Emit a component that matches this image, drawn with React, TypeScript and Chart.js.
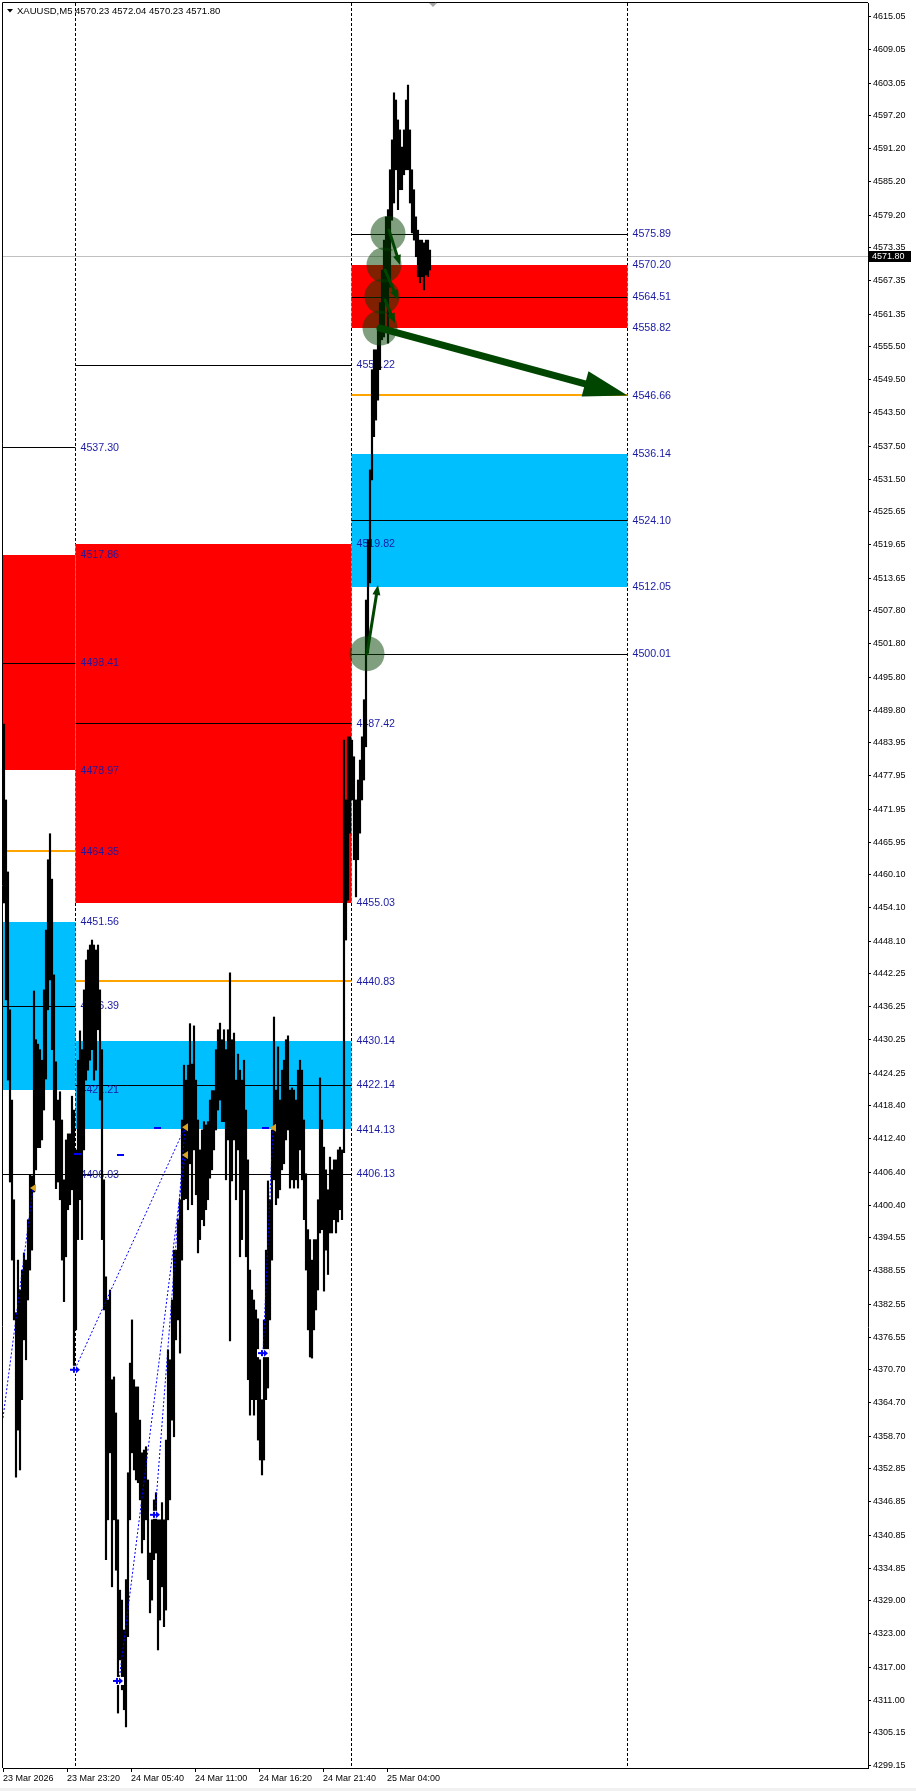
import React, { useEffect, useRef } from "react";
import { Chart, registerables } from "chart.js";

Chart.register(...registerables);

// ---------------- data ----------------
const symbol = "XAUUSD,M5";
const lastOHLC = [4570.23, 4572.04, 4570.23, 4571.8];
const bidPrice = 4571.8;

// each entry aggregates two M5 bars (10 minutes)
const highs = [
  4487.3, 4473.6, 4460.6, 4435.7, 4419.4, 4401.4, 4381.0, 4390.5, 4385.1, 4388.7,
  4391.8, 4390.5, 4397.8, 4405.9, 4405.7, 4439.1, 4430.3, 4429.5, 4428.5, 4426.6,
  4439.3, 4450.1, 4462.8, 4467.5, 4459.3, 4442.0, 4426.3, 4419.4, 4420.9, 4415.8,
  4405.0, 4412.2, 4413.3, 4413.3, 4420.1, 4417.6, 4410.4, 4426.6, 4431.9, 4428.5,
  4439.3, 4444.7, 4446.5, 4447.4, 4448.3, 4447.4, 4446.5, 4447.4, 4439.3, 4428.5,
  4405.0, 4387.5, 4383.3, 4385.1, 4368.9, 4369.4, 4362.9, 4343.6, 4330.9, 4329.1,
  4323.7, 4332.8, 4352.1, 4371.9, 4379.7, 4368.9, 4367.6, 4367.6, 4361.6, 4355.7,
  4356.2, 4356.8, 4350.8, 4337.6, 4343.6, 4347.2, 4348.5, 4343.6, 4343.6, 4346.7,
  4343.6, 4358.0, 4374.3, 4372.5, 4383.3, 4392.3, 4392.3, 4397.8, 4401.4, 4415.8,
  4425.7, 4423.0, 4425.7, 4433.2, 4425.9, 4432.8, 4423.0, 4415.8, 4410.4, 4414.0,
  4415.5, 4414.9, 4415.5, 4419.4, 4421.1, 4421.1, 4428.5, 4432.1, 4433.3, 4430.3,
  4432.1, 4428.5, 4432.1, 4442.4, 4430.3, 4431.5, 4423.0, 4427.7, 4424.8, 4423.0,
  4426.6, 4417.6, 4408.6, 4388.7, 4385.1, 4383.3, 4381.5, 4379.9, 4372.5, 4365.3,
  4379.7, 4392.3, 4404.8, 4401.4, 4414.0, 4434.4, 4421.2, 4429.0, 4419.4, 4424.8,
  4426.6, 4430.3, 4431.0, 4421.2, 4421.6, 4421.2, 4419.4, 4424.8, 4426.6, 4424.8,
  4415.8, 4406.1, 4396.0, 4394.2, 4390.5, 4394.2, 4394.2, 4401.4, 4423.4, 4415.8,
  4410.9, 4406.8, 4403.2, 4409.1, 4406.8, 4408.6, 4408.6, 4410.4, 4410.9, 4410.4,
  4484.4, 4473.6, 4485.0, 4485.0, 4484.4, 4481.4, 4473.6, 4477.2, 4480.8, 4485.0,
  4491.7, 4509.7, 4520.6, 4533.2, 4551.3, 4554.9, 4554.9, 4558.5, 4563.4, 4569.3,
  4574.7, 4578.9, 4580.2, 4587.4, 4592.8, 4601.3, 4600.0, 4596.4, 4594.6, 4591.5,
  4594.6, 4600.0, 4602.7, 4594.6, 4587.4, 4583.8, 4578.9, 4576.5, 4574.7, 4574.7,
  4574.2, 4574.7, 4574.7, 4572.9,
];
const lows = [
  4455.0, 4437.5, 4423.0, 4404.6, 4390.5, 4379.7, 4351.3, 4359.8, 4352.6, 4365.3,
  4376.1, 4372.5, 4383.3, 4388.7, 4392.3, 4402.8, 4406.8, 4410.8, 4410.8, 4412.2,
  4417.6, 4423.2, 4435.7, 4441.1, 4428.5, 4415.8, 4403.4, 4404.6, 4401.4, 4390.5,
  4383.0, 4391.1, 4399.6, 4400.5, 4403.2, 4370.9, 4377.9, 4394.2, 4401.4, 4394.2,
  4410.4, 4423.0, 4424.8, 4426.6, 4428.5, 4423.0, 4424.8, 4432.1, 4419.4, 4394.2,
  4381.5, 4336.4, 4343.6, 4355.7, 4331.5, 4343.6, 4334.5, 4308.7, 4318.3, 4312.9,
  4309.3, 4306.2, 4322.5, 4343.6, 4355.7, 4352.6, 4350.8, 4350.3, 4347.2, 4337.6,
  4340.0, 4343.6, 4332.8, 4326.8, 4329.1, 4336.4, 4337.6, 4320.1, 4325.5, 4331.5,
  4324.3, 4327.3, 4343.6, 4347.2, 4361.6, 4358.6, 4376.1, 4379.7, 4373.7, 4390.5,
  4401.4, 4401.6, 4399.6, 4407.9, 4400.5, 4410.4, 4402.3, 4391.8, 4394.2, 4397.8,
  4396.7, 4399.6, 4401.4, 4405.3, 4406.8, 4410.4, 4414.0, 4417.6, 4419.4, 4415.5,
  4415.5, 4405.0, 4412.2, 4375.9, 4404.8, 4412.2, 4401.4, 4410.4, 4391.1, 4394.2,
  4403.2, 4391.1, 4368.9, 4362.5, 4365.3, 4362.5, 4365.3, 4358.0, 4354.4, 4351.7,
  4354.4, 4365.3, 4367.4, 4379.7, 4390.5, 4405.0, 4400.5, 4401.7, 4403.2, 4406.8,
  4407.9, 4412.2, 4414.0, 4403.5, 4405.0, 4403.5, 4405.0, 4403.5, 4410.4, 4405.0,
  4397.8, 4388.7, 4377.9, 4373.0, 4372.8, 4377.9, 4381.5, 4385.1, 4395.4, 4396.0,
  4384.9, 4392.3, 4387.9, 4395.4, 4395.4, 4397.8, 4395.4, 4397.4, 4399.6, 4397.8,
  4409.9, 4448.3, 4455.5, 4467.6, 4473.6, 4462.8, 4456.1, 4462.8, 4467.6, 4473.6,
  4477.2, 4483.2, 4500.2, 4512.8, 4531.4, 4539.2, 4542.2, 4545.8, 4551.3, 4556.7,
  4557.2, 4563.9, 4556.1, 4566.2, 4578.3, 4581.4, 4587.4, 4580.2, 4583.8, 4583.8,
  4586.5, 4587.4, 4587.4, 4581.4, 4576.0, 4574.7, 4571.7, 4568.1, 4567.0, 4568.1,
  4565.7, 4568.4, 4568.1, 4569.3,
];

const priceMin = 4298.78;
const priceMax = 4617.52;
const priceTicks = [
  4615.05, 4609.05, 4603.05, 4597.2, 4591.2, 4585.2, 4579.2, 4573.35, 4567.35, 4561.35,
  4555.5, 4549.5, 4543.5, 4537.5, 4531.5, 4525.65, 4519.65, 4513.65, 4507.8, 4501.8,
  4495.8, 4489.8, 4483.95, 4477.95, 4471.95, 4465.95, 4460.1, 4454.1, 4448.1, 4442.25,
  4436.25, 4430.25, 4424.25, 4418.4, 4412.4, 4406.4, 4400.4, 4394.55, 4388.55, 4382.55,
  4376.55, 4370.7, 4364.7, 4358.7, 4352.85, 4346.85, 4340.85, 4334.85, 4329.0, 4323.0,
  4317.0, 4311.0, 4305.15, 4299.15,
];

const barCapacity = 865;
const timeTickIdx = [0, 64, 128, 192, 256, 320, 384];
const timeTickLabels = [
  "23 Mar 2026", "23 Mar 23:20", "24 Mar 05:40", "24 Mar 11:00",
  "24 Mar 16:20", "24 Mar 21:40", "25 Mar 04:00",
];

// day separators and zone segments (bar index)
const daySeparatorIdx = [72.5, 348.5, 624.5];
const segStartIdx = [0, 72.5, 348.5];
const segEndIdx = [72.5, 348.5, 624.5];

const supplyTop = [4517.86, 4519.82, 4570.2];
const supplyBottom = [4478.97, 4455.03, 4558.82];
const supplyMid = [4498.41, 4487.42, 4564.51];
const demandTop = [4451.56, 4430.14, 4536.14];
const demandBottom = [4421.21, 4414.13, 4512.05];
const demandMid = [4436.39, 4422.14, 4524.1];
const upperLevel = [4537.3, 4552.22, 4575.89];
const lowerLevel = [4406.03, 4406.13, 4500.01];
const orangeLevel = [4464.35, 4440.83, 4546.66];

// touch circles
const circleIdx = [385, 381, 379, 377, 364];
const circlePrice = [4575.89, 4570.2, 4564.51, 4558.82, 4500.01];

// arrows (first one is the big projection arrow)
const arrowFromIdx = [377, 386, 382, 382, 364];
const arrowFromPrice = [4558.82, 4576.5, 4569.3, 4563.9, 4500.0];
const arrowToIdx = [624.5, 397, 395, 392, 375];
const arrowToPrice = [4546.66, 4570.2, 4563.9, 4559.7, 4512.4];

// zigzag (blue dotted)
const zigFromIdx = [0, 72, 116, 152, 260];
const zigFromPrice = [4362.0, 4370.8, 4314.5, 4344.5, 4373.7];
const zigToIdx = [30, 182, 182, 182, 270];
const zigToPrice = [4403.5, 4414.5, 4409.5, 4414.5, 4414.4];

const lowMarkIdx = [72, 115, 152, 260];
const lowMarkPrice = [4370.7, 4314.5, 4344.5, 4373.7];
const highMarkIdx = [30, 182, 182, 270];
const highMarkPrice = [4403.5, 4414.5, 4409.5, 4414.4];
const dashIdx = [74, 117, 154, 262];
const dashPrice = [4409.7, 4409.5, 4414.4, 4414.4];

// ---------------- styles ----------------
const W = 916;
const H = 1791;
const FONT = "'Liberation Sans', Arial, sans-serif";
const RED = "#ff0000";
const CYAN = "#00bfff";
const ORANGE = "#ffa500";
const LABEL_BLUE = "#1a1aa6";
const GREEN = "#004600";

const crisp = (v: number) => Math.round(v) + 0.5;

const overlay = {
  id: "mtOverlay",
  beforeDraw(chart: any) {
    const { ctx } = chart;
    ctx.save();
    ctx.fillStyle = "#ffffff";
    ctx.fillRect(0, 0, W, H);
    ctx.fillStyle = "#f0f0f0";
    ctx.fillRect(0, 1788, W, H - 1788);
    ctx.restore();
  },
  beforeDatasetsDraw(chart: any) {
    const { ctx, chartArea: ca } = chart;
    const x = chart.scales.x;
    const y = chart.scales.y;
    ctx.save();
    ctx.beginPath();
    ctx.rect(ca.left, ca.top, ca.right - ca.left, ca.bottom - ca.top);
    ctx.clip();

    // zones
    for (let i = 0; i < segStartIdx.length; i++) {
      const x0 = x.getPixelForValue(segStartIdx[i]);
      const x1 = x.getPixelForValue(segEndIdx[i]);
      const sT = y.getPixelForValue(supplyTop[i]);
      const sB = y.getPixelForValue(supplyBottom[i]);
      ctx.fillStyle = RED;
      ctx.fillRect(x0, Math.round(sT), x1 - x0, Math.round(sB) - Math.round(sT));
      const dT = y.getPixelForValue(demandTop[i]);
      const dB = y.getPixelForValue(demandBottom[i]);
      ctx.fillStyle = CYAN;
      ctx.fillRect(x0, Math.round(dT), x1 - x0, Math.round(dB) - Math.round(dT));
    }

    // day separators (inverted dotted)
    ctx.save();
    ctx.globalCompositeOperation = "difference";
    ctx.strokeStyle = "#ffffff";
    ctx.lineWidth = 1;
    ctx.setLineDash([3, 2]);
    for (const s of daySeparatorIdx) {
      const px = Math.floor(x.getPixelForValue(s)) + 0.5;
      ctx.beginPath();
      ctx.moveTo(px, ca.top);
      ctx.lineTo(px, ca.bottom);
      ctx.stroke();
    }
    ctx.restore();

    // bid line
    ctx.strokeStyle = "#c0c0c0";
    ctx.lineWidth = 1;
    const by = crisp(y.getPixelForValue(bidPrice));
    ctx.beginPath();
    ctx.moveTo(ca.left, by);
    ctx.lineTo(ca.right, by);
    ctx.stroke();

    // horizontal levels
    const hline = (i: number, v: number, color: string, lw: number) => {
      const x0 = x.getPixelForValue(segStartIdx[i]);
      const x1 = x.getPixelForValue(segEndIdx[i]);
      const py = lw === 1 ? crisp(y.getPixelForValue(v)) : Math.round(y.getPixelForValue(v));
      ctx.strokeStyle = color;
      ctx.lineWidth = lw;
      ctx.beginPath();
      ctx.moveTo(x0, py);
      ctx.lineTo(x1, py);
      ctx.stroke();
    };
    for (let i = 0; i < segStartIdx.length; i++) {
      hline(i, supplyMid[i], "#000000", 1);
      hline(i, demandMid[i], "#000000", 1);
      hline(i, upperLevel[i], "#000000", 1);
      hline(i, lowerLevel[i], "#000000", 1);
      hline(i, orangeLevel[i], ORANGE, 2);
    }

    // labels
    ctx.font = `10.67px ${FONT}`;
    ctx.fillStyle = LABEL_BLUE;
    ctx.textAlign = "left";
    ctx.textBaseline = "middle";
    for (let i = 0; i < segStartIdx.length; i++) {
      const lx = x.getPixelForValue(segEndIdx[i]) + 5;
      const vals = [
        supplyTop[i], supplyBottom[i], supplyMid[i], demandTop[i], demandBottom[i],
        demandMid[i], upperLevel[i], lowerLevel[i], orangeLevel[i],
      ];
      for (const v of vals) {
        ctx.fillText(v.toFixed(2), lx, y.getPixelForValue(v) + 0.5);
      }
    }
    ctx.restore();
  },
  afterDatasetsDraw(chart: any) {
    const { ctx, chartArea: ca } = chart;
    const x = chart.scales.x;
    const y = chart.scales.y;
    ctx.save();
    ctx.beginPath();
    ctx.rect(ca.left, ca.top, ca.right - ca.left, ca.bottom - ca.top);
    ctx.clip();

    // zigzag
    ctx.strokeStyle = "#0000ff";
    ctx.lineWidth = 1;
    ctx.setLineDash([2, 2]);
    for (let i = 0; i < zigFromIdx.length; i++) {
      ctx.beginPath();
      ctx.moveTo(x.getPixelForValue(zigFromIdx[i]), y.getPixelForValue(zigFromPrice[i]));
      ctx.lineTo(x.getPixelForValue(zigToIdx[i]), y.getPixelForValue(zigToPrice[i]));
      ctx.stroke();
    }
    ctx.setLineDash([]);

    // markers
    for (let i = 0; i < dashIdx.length; i++) {
      const px = x.getPixelForValue(dashIdx[i]);
      const py = Math.round(y.getPixelForValue(dashPrice[i]));
      ctx.fillStyle = "#0000ff";
      ctx.fillRect(px - 3, py - 1, 7, 2);
    }
    for (let i = 0; i < highMarkIdx.length; i++) {
      const px = x.getPixelForValue(highMarkIdx[i]);
      const py = y.getPixelForValue(highMarkPrice[i]);
      ctx.fillStyle = "#daa520";
      ctx.beginPath();
      ctx.moveTo(px - 3, py);
      ctx.lineTo(px + 3, py - 4);
      ctx.lineTo(px + 3, py + 4);
      ctx.closePath();
      ctx.fill();
    }
    for (let i = 0; i < lowMarkIdx.length; i++) {
      const px = x.getPixelForValue(lowMarkIdx[i]);
      const py = y.getPixelForValue(lowMarkPrice[i]);
      ctx.fillStyle = "#ffffff";
      ctx.fillRect(px - 6, py - 4, 12, 8);
      ctx.fillStyle = "#0000ff";
      ctx.fillRect(px - 5, py - 1, 6, 2);
      ctx.fillRect(px - 2, py - 3, 2, 6);
      ctx.beginPath();
      ctx.moveTo(px + 1, py - 3.5);
      ctx.lineTo(px + 5, py);
      ctx.lineTo(px + 1, py + 3.5);
      ctx.closePath();
      ctx.fill();
    }

    // circles
    ctx.fillStyle = "rgba(0,64,0,0.5)";
    for (let i = 0; i < circleIdx.length; i++) {
      ctx.beginPath();
      ctx.arc(x.getPixelForValue(circleIdx[i]), y.getPixelForValue(circlePrice[i]), 17.5, 0, Math.PI * 2);
      ctx.fill();
    }

    // arrows
    for (let i = 0; i < arrowFromIdx.length; i++) {
      const big = i === 0;
      const x0 = x.getPixelForValue(arrowFromIdx[i]);
      const y0 = y.getPixelForValue(arrowFromPrice[i]);
      const x1 = x.getPixelForValue(arrowToIdx[i]);
      const y1 = y.getPixelForValue(arrowToPrice[i]);
      const len = Math.hypot(x1 - x0, y1 - y0);
      const ux = (x1 - x0) / len;
      const uy = (y1 - y0) / len;
      const hl = big ? 44 : 10;
      const hw = big ? 13 : 4;
      const bx = x1 - ux * hl;
      const byy = y1 - uy * hl;
      ctx.strokeStyle = GREEN;
      ctx.fillStyle = GREEN;
      ctx.lineWidth = big ? 7 : 3;
      ctx.lineCap = "round";
      ctx.beginPath();
      ctx.moveTo(x0, y0);
      ctx.lineTo(bx + ux * 2, byy + uy * 2);
      ctx.stroke();
      ctx.beginPath();
      ctx.moveTo(x1, y1);
      ctx.lineTo(bx - uy * hw, byy + ux * hw);
      ctx.lineTo(bx + uy * hw, byy - ux * hw);
      ctx.closePath();
      ctx.fill();
    }
    ctx.restore();
  },
  afterDraw(chart: any) {
    const { ctx, chartArea: ca } = chart;
    const y = chart.scales.y;
    ctx.save();
    // frame
    ctx.strokeStyle = "#000000";
    ctx.lineWidth = 1;
    ctx.beginPath();
    ctx.moveTo(ca.left - 0.5, ca.bottom);
    ctx.lineTo(ca.left - 0.5, ca.top - 0.5);
    ctx.lineTo(ca.right, ca.top - 0.5);
    ctx.stroke();

    // shift marker
    ctx.fillStyle = "#a8a8a8";
    ctx.beginPath();
    ctx.moveTo(429, ca.top);
    ctx.lineTo(437, ca.top);
    ctx.lineTo(433, ca.top + 4);
    ctx.closePath();
    ctx.fill();

    // header
    ctx.fillStyle = "#000000";
    ctx.beginPath();
    ctx.moveTo(7, 9);
    ctx.lineTo(13, 9);
    ctx.lineTo(10, 12.5);
    ctx.closePath();
    ctx.fill();
    ctx.font = `9.5px ${FONT}`;
    ctx.textAlign = "left";
    ctx.textBaseline = "middle";
    ctx.fillText(`${symbol} ${lastOHLC.map((v) => v.toFixed(2)).join(" ")}`, 17, 11);

    // bid price box
    const py = Math.round(y.getPixelForValue(bidPrice));
    ctx.fillStyle = "#000000";
    ctx.fillRect(ca.right + 1, py - 5, 42, 11);
    ctx.fillStyle = "#ffffff";
    ctx.font = `9px ${FONT}`;
    ctx.fillText(bidPrice.toFixed(2), ca.right + 4, py + 0.5);
    ctx.restore();
  },
};

export default function App() {
  const ref = useRef<HTMLCanvasElement | null>(null);
  useEffect(() => {
    document.body.style.margin = "0";
    const canvas = ref.current;
    if (!canvas) return;
    const bars = highs.map((h, i) => ({ x: i * 2 + 1, y: [lows[i], h] }));
    const tickFont = { family: FONT, size: 9 };
    const chart = new Chart(canvas, {
      type: "bar",
      data: {
        datasets: [
          {
            data: bars as any,
            backgroundColor: "#000000",
            borderWidth: 0,
            barThickness: 1.5,
            grouped: false,
          } as any,
        ],
      },
      options: {
        responsive: false,
        animation: false,
        devicePixelRatio: 1,
        events: [],
        layout: { padding: { left: 3, top: 3, right: 0, bottom: 0 } },
        plugins: { legend: { display: false }, tooltip: { enabled: false } },
        scales: {
          x: {
            type: "linear",
            position: "bottom",
            min: 0,
            max: barCapacity,
            offset: false,
            afterBuildTicks: (s: any) => {
              s.ticks = timeTickIdx.map((v) => ({ value: v }));
            },
            afterFit: (s: any) => {
              s.height = 23;
              s.paddingLeft = 0;
              s.paddingRight = 0;
            },
            grid: { drawOnChartArea: false, offset: false, tickLength: 4, color: "#000000", lineWidth: 1 },
            border: { display: true, color: "#000000" },
            ticks: {
              autoSkip: false,
              maxRotation: 0,
              align: "start",
              padding: 1,
              color: "#000000",
              font: tickFont,
              callback: (v: any) => {
                const k = timeTickIdx.indexOf(Number(v));
                return k >= 0 ? timeTickLabels[k] : "";
              },
            },
          } as any,
          y: {
            type: "linear",
            position: "right",
            min: priceMin,
            max: priceMax,
            afterBuildTicks: (s: any) => {
              s.ticks = priceTicks.map((v) => ({ value: v }));
            },
            afterFit: (s: any) => {
              s.width = 48;
              s.paddingTop = 0;
              s.paddingBottom = 0;
            },
            grid: { drawOnChartArea: false, tickLength: 3, color: "#000000", lineWidth: 1 },
            border: { display: true, color: "#000000" },
            ticks: {
              autoSkip: false,
              padding: 2,
              color: "#000000",
              font: tickFont,
              callback: (v: any) => Number(v).toFixed(2),
            },
          } as any,
        },
      },
      plugins: [overlay],
    });
    return () => chart.destroy();
  }, []);
  return (
    <div style={{ position: "absolute", left: 0, top: 0, width: W, height: H }}>
      <canvas ref={ref} width={W} height={H} style={{ display: "block", width: W, height: H }} />
    </div>
  );
}
